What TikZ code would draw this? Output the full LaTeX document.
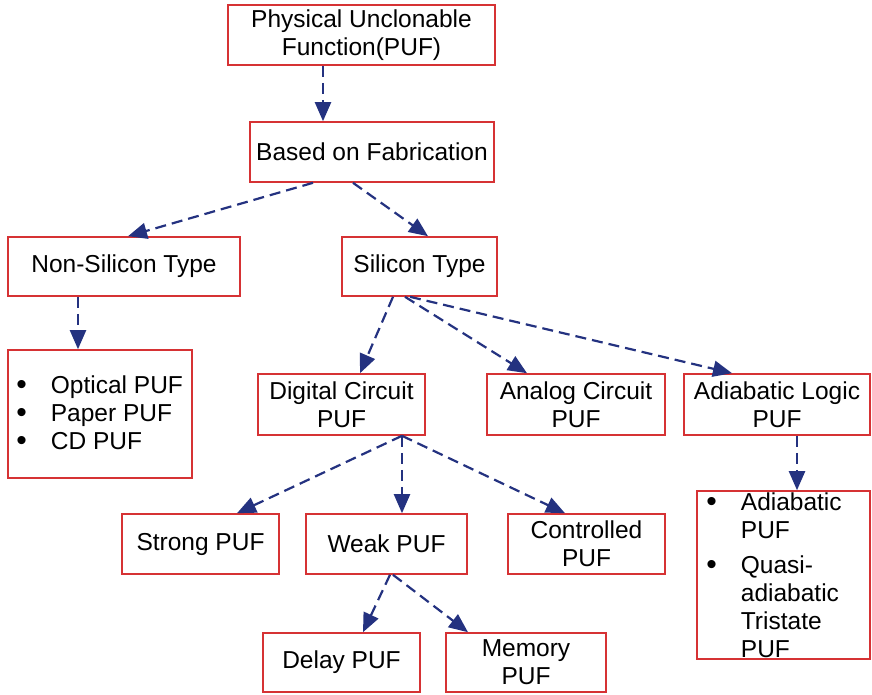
\documentclass[tikz,border=0pt]{standalone}
\usepackage{fontspec}
\setmainfont{Liberation Sans}
\usetikzlibrary{arrows.meta}
\definecolor{pufred}{RGB}{214,50,52}
\definecolor{linkblue}{RGB}{36,50,128}
\newcommand{\itembullet}{\smash{\raisebox{-1.5pt}{\fontsize{30}{28}\selectfont\textbullet}}}
\begin{document}
\begin{tikzpicture}[
  x=1pt, y=-1pt,
  box/.style={rectangle, draw=pufred, line width=1.6pt, fill=white, align=center, inner sep=0pt, font=\fontsize{24.5}{28}\selectfont},
  link/.style={-{Triangle[length=19pt,width=16pt]}, line width=2.2pt, linkblue, dash pattern=on 11pt off 6pt},
  items/.style={anchor=north west, inner sep=0pt, font=\fontsize{24.5}{28}\selectfont},
]
  \useasboundingbox (0,0) rectangle (872,694);

  \node[box, minimum width=267pt, minimum height=60pt] (puf) at (361.5, 35) {Physical Unclonable\\Function(PUF)};
  \node[box, minimum width=244pt, minimum height=60pt] (fab) at (372, 152) {Based on Fabrication};

  \node[box, minimum width=232pt, minimum height=59pt] (nonsi) at (124, 266.5) {Non-Silicon Type};
  \node[box, minimum width=155pt, minimum height=59pt] (si) at (419.5, 266.5) {Silicon Type};

  \node[box, minimum width=184pt, minimum height=128pt] (optlist) at (100, 414) {};
  \node[items] (optitems) at ([xshift=9pt, yshift=-24pt]optlist.north west) {%
    \begin{tabular}{@{}l@{\hspace{24pt}}l@{}}
      \itembullet & Optical PUF\\
      \itembullet & Paper PUF\\
      \itembullet & CD PUF
    \end{tabular}};

  \node[box, minimum width=167pt, minimum height=61pt] (digital) at (341.5, 404.5) {Digital Circuit\\PUF};
  \node[box, minimum width=178pt, minimum height=61pt] (analog) at (576, 404.5) {Analog Circuit\\PUF};
  \node[box, minimum width=186pt, minimum height=61pt] (adiab) at (777, 404.5) {Adiabatic Logic\\PUF};

  \node[box, minimum width=157pt, minimum height=60pt] (strong) at (200.5, 544) {Strong PUF};
  \node[box, minimum width=161pt, minimum height=60pt] (weak) at (386.5, 544) {Weak PUF};
  \node[box, minimum width=157pt, minimum height=60pt] (ctrl) at (586.5, 544) {Controlled\\PUF};

  \node[box, minimum width=173pt, minimum height=168pt] (adlist) at (783.5, 575) {};
  \node[items] (aditems) at ([xshift=10pt]adlist.north west) {%
    \begin{tabular}{@{}l@{\hspace{24pt}}l@{}}
      \itembullet & Adiabatic\\
                  & PUF\\[7pt]
      \itembullet & Quasi-\\
                  & adiabatic\\
                  & Tristate\\
                  & PUF
    \end{tabular}};

  \node[box, minimum width=157pt, minimum height=59pt] (delay) at (341.5, 662.5) {Delay PUF};
  \node[box, minimum width=160pt, minimum height=59pt] (memory) at (526, 662.5) {Memory\\PUF};

  % links
  \draw[link] ([xshift=-38.5pt]puf.south) -- ([xshift=-49pt]fab.north);
  \draw[link] ([xshift=-59pt]fab.south) -- ([xshift=4pt]nonsi.north);
  \draw[link] ([xshift=-19pt]fab.south) -- ([xshift=8.5pt]si.north);
  \draw[link] ([xshift=-46pt]nonsi.south) -- ([xshift=-22pt]optlist.north);

  \draw[link] ([xshift=-26.5pt]si.south) -- ([xshift=18.5pt]digital.north);
  \draw[link] ([xshift=-14.5pt]si.south) -- ([xshift=-49pt]analog.north);
  \draw[link] ([xshift=-9.5pt]si.south) -- ([xshift=-45pt]adiab.north);
  \draw[link] ([xshift=20pt]adiab.south) -- ([xshift=13.5pt]adlist.north);

  \draw[link] ([xshift=60.5pt]digital.south) -- ([xshift=36.5pt]strong.north);
  \draw[link] ([xshift=60.5pt]digital.south) -- ([xshift=15.5pt]weak.north);
  \draw[link] ([xshift=60.5pt]digital.south) -- ([xshift=-21.5pt]ctrl.north);

  \draw[link] ([xshift=3.5pt]weak.south) -- ([xshift=21.5pt]delay.north);
  \draw[link] ([xshift=6.5pt]weak.south) -- ([xshift=-58pt]memory.north);
\end{tikzpicture}
\end{document}
